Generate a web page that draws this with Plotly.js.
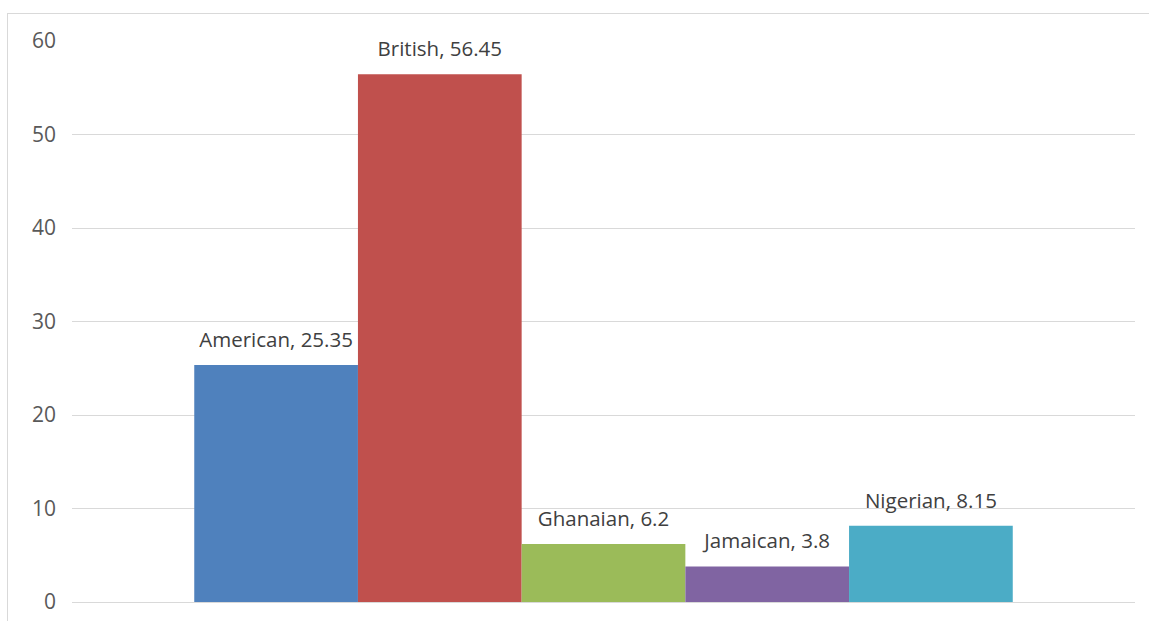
<!DOCTYPE html>
<html>
<head>
<meta charset="utf-8">
<script src="https://cdn.plot.ly/plotly-3.0.1.min.js"></script>
<style>
  html, body { margin: 0; padding: 0; background: #ffffff; width: 1149px; height: 621px; overflow: hidden; }
  #frame { position: absolute; left: 7px; top: 13px; width: 1142px; height: 608px;
           border-left: 1px solid #d9d9d9; border-top: 1px solid #d9d9d9; box-sizing: border-box; }
  #chart { width: 1141px; height: 607px; }
</style>
</head>
<body>
<div id="frame"><div id="chart"></div></div>
<script>
const category = [""];
const seriesNames = ["American", "British", "Ghanaian", "Jamaican", "Nigerian"];
const seriesValues = [25.35, 56.45, 6.2, 3.8, 8.15];
const seriesColors = ["#4f81bd", "#c0504d", "#9bbb59", "#8064a2", "#4bacc6"];
const yTicks = [0, 10, 20, 30, 40, 50, 60];

const FONT = "'Open Sans', sans-serif";

const bars = seriesNames.map((name, i) => ({
  type: "bar",
  name: name,
  x: category,
  y: [seriesValues[i]],
  marker: { color: seriesColors[i], line: { width: 0 } },
  hoverinfo: "skip"
}));

// Data labels: invisible markers grouped like the bars, text above them
const labels = seriesNames.map((name, i) => ({
  type: "scatter",
  mode: "markers+text",
  name: name + " label",
  x: category,
  y: [seriesValues[i]],
  marker: { size: 19, color: "rgba(0,0,0,0)" },
  text: [name + ", " + seriesValues[i]],
  textposition: "top center",
  textfont: { family: FONT, size: 20.5, color: "#404040" },
  cliponaxis: false,
  hoverinfo: "skip"
}));

const layout = {
  width: 1141,
  height: 607,
  margin: { l: 64, r: 14, t: 27, b: 19 },
  paper_bgcolor: "#ffffff",
  plot_bgcolor: "#ffffff",
  showlegend: false,
  barmode: "group",
  bargap: 0.23,
  bargroupgap: 0,
  scattermode: "group",
  scattergap: 0.23,
  xaxis: { type: "category", showticklabels: false, showgrid: false, zeroline: false, showline: false, ticks: "" },
  yaxis: {
    range: [0, 60],
    tickvals: yTicks,
    ticktext: yTicks.map(String),
    showgrid: true,
    gridcolor: "#d9d9d9",
    gridwidth: 1,
    zeroline: true,
    zerolinecolor: "#d9d9d9",
    zerolinewidth: 1,
    showline: false,
    ticks: "",
    ticklabelstandoff: 15,
    tickfont: { family: FONT, size: 21, color: "#595959" }
  }
};

Plotly.newPlot("chart", bars.concat(labels), layout, { staticPlot: true, displayModeBar: false });
</script>
</body>
</html>
